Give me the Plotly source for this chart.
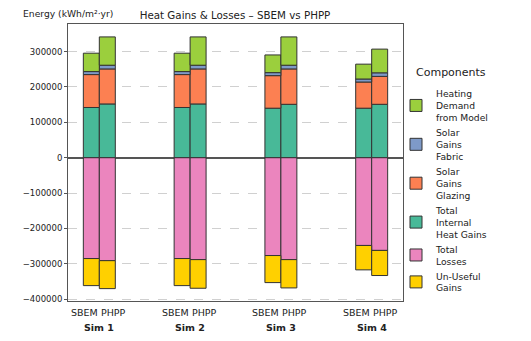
import plotly.graph_objects as go

sims = ["Sim 1", "Sim 2", "Sim 3", "Sim 4"]
models = ["SBEM", "PHPP"]

# values per sim: [SBEM, PHPP]
internal = [[142000, 152000], [142000, 152000], [140000, 151000], [140000, 151000]]
glazing = [[93000, 99000], [93000, 99000], [92000, 100000], [74000, 79000]]
fabric = [[8500, 10500], [8500, 10500], [8500, 10500], [8500, 10000]]
heating = [[52000, 80000], [52000, 80000], [50000, 80000], [42000, 67000]]
losses = [[-285000, -291000], [-285000, -288000], [-276500, -288000], [-248000, -262000]]
unuseful = [[-76500, -79000], [-76500, -81000], [-76500, -80000], [-69000, -71000]]

series = [
    ("Total<br>Internal<br>Heat Gains", internal, "#48B998", 4),
    ("Solar<br>Gains<br>Glazing", glazing, "#FC8052", 3),
    ("Solar<br>Gains<br>Fabric", fabric, "#7E9AC8", 2),
    ("Heating<br>Demand<br>from Model", heating, "#9BCF3D", 1),
    ("Total<br>Losses", losses, "#EB85BE", 5),
    ("Un-Useful<br>Gains", unuseful, "#FFD000", 6),
]

half = 0.088
xpos = []
for i in range(len(sims)):
    xpos += [i - half, i + half]

fig = go.Figure()
for name, vals, color, rank in series:
    y = [v for pair in vals for v in pair]
    fig.add_trace(go.Bar(
        x=xpos, y=y, width=2 * half, name=name,
        marker=dict(color=color, line=dict(color="#333333", width=1)),
        legendrank=rank,
    ))

L, R, T, B = 68, 403, 24, 301
W, H = 531, 341
pw, ph = R - L, B - T

font = "DejaVu Sans"
fig.update_layout(
    barmode="relative",
    width=W, height=H,
    margin=dict(l=L, r=W - R, t=T, b=H - B),
    paper_bgcolor="white", plot_bgcolor="white",
    font=dict(family=font, size=9, color="#222"),
    title=dict(text="Heat Gains & Losses – SBEM vs PHPP", x=235 / W, xanchor="center",
               y=1 - 15 / H, yanchor="middle", font=dict(size=10.3, color="#222")),
    legend=dict(
        x=(396 - L) / pw, xanchor="left", y=(B - 81) / ph, yanchor="top",
        font=dict(size=9.2), bgcolor="rgba(0,0,0,0)",
        traceorder="normal",
    ),
    showlegend=True,
)
fig.update_xaxes(
    range=[-0.345, 3.345], showticklabels=False, showgrid=False, zeroline=False,
    showline=True, mirror=True, linecolor="#555", linewidth=1, ticks="",
)
fig.update_yaxes(
    range=[-405000, 378000], dtick=100000, tickformat="d",
    showgrid=True, gridcolor="#d0d0d0", griddash="dash", gridwidth=1,
    zeroline=True, zerolinecolor="#555", zerolinewidth=1.5,
    showline=True, mirror=True, linecolor="#555", linewidth=1,
    ticks="outside", ticklen=3, tickcolor="#555", tickfont=dict(size=8.5),
)
for i, s in enumerate(sims):
    fig.add_annotation(x=i, y=(B - 327) / ph, xref="x", yref="paper", text="<b>%s</b>" % s,
                       showarrow=False, font=dict(size=9.5), yanchor="middle")
    for j, m in enumerate(models):
        fig.add_annotation(x=i, y=(B - 312) / ph, xref="x", yref="paper", text=m,
                           showarrow=False, font=dict(size=9.5), yanchor="middle",
                           xanchor="right" if j == 0 else "left", xshift=-0.5 if j == 0 else 0.5,
                           borderpad=0)
fig.add_annotation(x=(21 - L) / pw, y=(B - 14) / ph, xref="paper", yref="paper",
                   text="Energy (kWh/m²·yr)", showarrow=False, xanchor="left",
                   yanchor="middle", font=dict(size=9.2))
fig.add_annotation(x=(414 - L) / pw, y=(B - 72) / ph, xref="paper", yref="paper",
                   text="Components", showarrow=False, xanchor="left",
                   yanchor="middle", font=dict(size=11))
fig.write_html("out.html")
